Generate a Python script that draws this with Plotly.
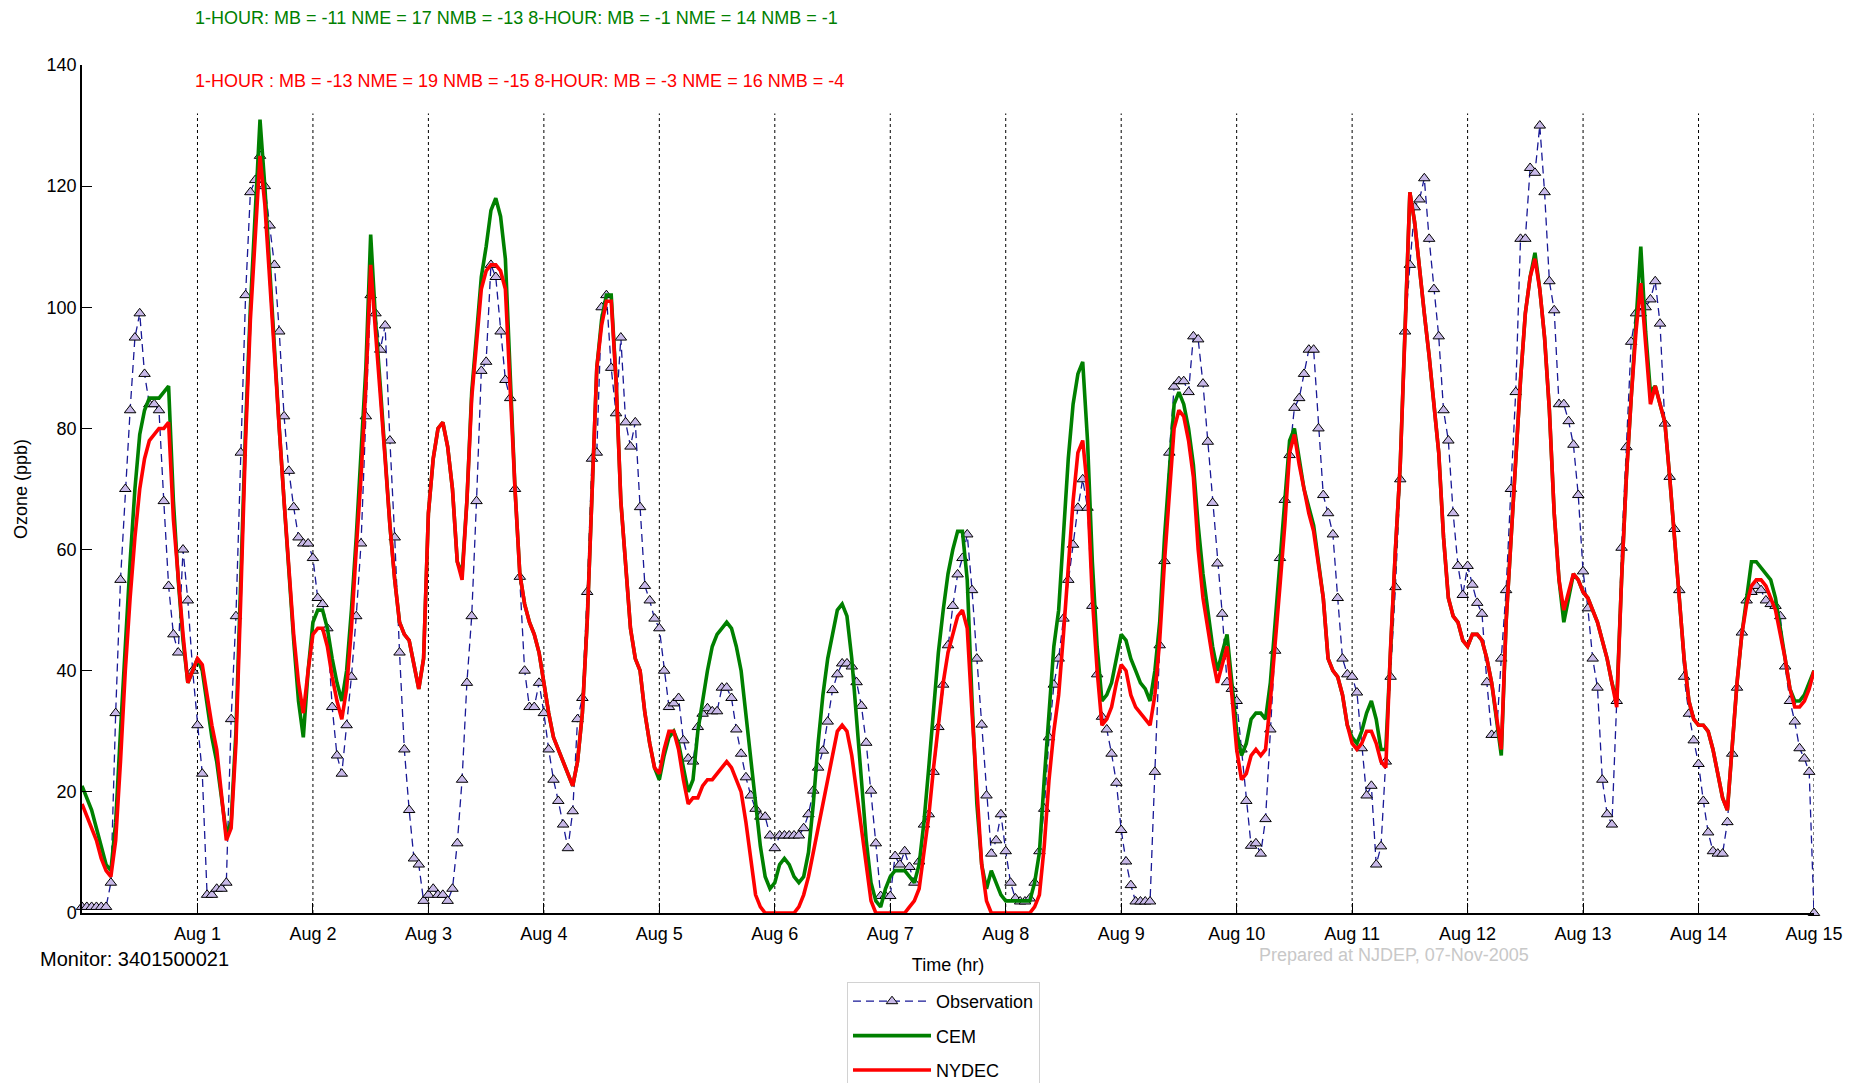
import plotly.graph_objects as go

# ---------------- data (hourly, hour 0 = Jul 31 00:00) ----------------
hours = list(range(361))

observation = [
    1, 1, 1, 1, 1, 1, 5, 33, 55, 70, 83, 95, 99, 89, 84, 84, 83, 68, 54, 46, 43, 60, 51.6, 40,
    31, 23, 3, 3, 4, 4, 5, 32, 49, 76, 102, 119, 121, 125, 120, 113.5, 107, 96, 82, 73, 67, 62, 61, 61,
    58.6, 52, 51, 47, 34, 26, 23, 31, 39, 49, 61, 82, 102, 99, 93, 97, 78, 62, 43, 27, 17, 9, 8, 2,
    3, 4, 3, 3, 2, 4, 11.5, 22, 38, 49, 68, 89.5, 91, 107, 105, 96, 88, 85, 70, 55.5, 40, 34, 34, 38,
    33, 27, 22, 18.5, 14.6, 10.7, 16.8, 32, 35.5, 53, 75, 76, 100, 102, 90, 82.5, 95, 81, 77, 81, 67, 54, 51.6, 48.6,
    47, 40, 34, 34.6, 35.5, 28.5, 25.5, 25, 30.7, 32.9, 33.8, 33.3, 33.3, 37.2, 37.2, 35.5, 30.3, 26.3, 22.4, 19.4, 17.2, 15.9, 15.9, 12.8,
    10.7, 12.8, 12.8, 12.8, 12.8, 12.8, 14, 16.3, 20.2, 24, 26.8, 31.6, 36.8, 39.4, 41.2, 41.2, 40.7, 38.1, 34.2, 28.1, 20.2, 11.5, 2.8, 2.8,
    2.8, 9.4, 8, 10.2, 7.6, 5, 8.5, 14.6, 16.3, 23.3, 30.7, 37.7, 44.2, 50.7, 55.9, 58.6, 62.5, 53.3, 42, 31.1, 19.4, 9.8, 12, 16.3,
    10.2, 5, 2.4, 1.9, 1.9, 2.4, 5, 10.2, 17.2, 29, 37.7, 42, 48.6, 55, 60.8, 66.9, 71.6, 66.9, 50.7, 39.4, 32.4, 30.3, 26.3, 21.5,
    13.7, 8.5, 4.6, 1.9, 1.9, 1.9, 1.9, 23.3, 44.2, 58.1, 76, 86.9, 87.8, 87.8, 86, 95.2, 94.7, 87.4, 77.8, 67.7, 57.7, 49.4, 38.1, 37,
    35, 27, 18.5, 11.1, 11.5, 9.8, 15.5, 30.3, 43.3, 58.6, 68.2, 75.6, 83.4, 85, 89, 93, 93, 80, 69, 66, 62.5, 52, 42, 39.4,
    39, 36.4, 27.2, 19.4, 21, 8, 11, 25, 39, 53.8, 71.6, 96, 107, 116.5, 117.8, 121.3, 111.3, 103, 95.2, 83, 78, 66, 57.3, 52.5,
    57.3, 54.2, 51.2, 49.4, 38.1, 29.4, 29.4, 42, 53.3, 70, 86, 111.3, 111.3, 123, 122.2, 130, 119, 104.3, 99.5, 84, 84, 81.2, 77.3, 69,
    56.4, 50.3, 42, 37.2, 22, 16.3, 14.6, 35, 60.3, 76.9, 94.3, 99, 99, 100, 101.3, 104.3, 97.3, 80.8, 72, 63.4, 53.3, 39, 32.9, 28.5,
    24.6, 18.5, 13.3, 10.2, 9.8, 9.8, 15, 26.3, 37.2, 46.3, 51.6, 53, 54, 53.3, 51.6, 51, 50.7, 49, 40.7, 35, 31.6, 27.2, 25.5, 23.3,
    0,
]

cem = [
    21, 19, 17, 14, 11, 8, 7, 15, 30, 45, 58, 70, 79, 83, 85, 85, 85, 86, 87, 68, 55, 45, 38, 40,
    42, 40, 34, 29, 25, 19, 13, 15, 30, 55, 80, 100, 115, 131, 120, 106, 93, 80, 68, 56, 45, 35, 29, 40,
    48, 50, 50, 47, 42, 38, 35, 40, 50, 62, 75, 90, 112, 98, 87, 75, 64, 55, 48, 46, 45, 41, 37, 42,
    66, 75, 80, 81, 77, 70, 58, 56, 68, 86, 96, 105, 110, 116, 118, 115, 108, 88, 70, 56, 51, 48, 46, 43,
    38, 33, 29, 27, 25, 23, 21, 25, 33, 48, 68, 90, 98, 102, 102, 88, 68, 58, 47, 42, 40, 33, 28, 24,
    22, 26, 29, 30, 28, 24, 20, 22, 30, 35, 40, 44, 46, 47, 48, 47, 44, 40, 33, 26, 18, 11, 6, 4,
    5, 8, 9, 8, 6, 5, 6, 10, 18, 28, 36, 42, 46, 50, 51, 49, 42, 32, 22, 12, 5, 2, 1, 4,
    6, 7, 7, 7, 6, 5, 8, 15, 24, 34, 43, 50, 56, 60, 63, 63, 55, 35, 18, 8, 4, 7, 5, 3,
    2, 2, 2, 2, 2, 2, 5, 10, 22, 34, 44, 50, 62, 75, 84, 89, 91, 78, 58, 44, 35, 36, 38, 42,
    46, 45, 42, 40, 38, 37, 35, 40, 48, 62, 74, 84, 86, 84, 80, 74, 64, 56, 50, 44, 40, 43, 46, 38,
    30, 26, 28, 32, 33, 33, 32, 38, 48, 58, 68, 78, 80, 75, 70, 67, 64, 58, 52, 42, 40, 39, 36, 31,
    29, 28, 30, 33, 35, 32, 27, 27, 44, 60, 74, 96, 119, 114, 106, 99, 92, 84, 76, 62, 52, 49, 48, 45,
    44, 46, 46, 45, 42, 38, 32, 26, 48, 62, 75, 88, 99, 105, 109, 103, 95, 83, 66, 55, 48, 52, 56, 55,
    53, 52, 50, 48, 45, 42, 38, 35, 55, 72, 85, 98, 110, 96, 86, 87, 84, 81, 72, 62, 52, 42, 35, 32,
    31, 31, 30, 27, 23, 19, 17, 28, 38, 46, 52, 58, 58, 57, 56, 55, 52, 47, 42, 37, 35, 35, 36, 38,
    40,
]

nydec = [
    18, 16, 14, 12, 9, 7, 6, 12, 25, 40, 52, 62, 70, 75, 78, 79, 80, 80, 81, 65, 55, 46, 38, 40,
    42, 41, 36, 31, 27, 20, 12, 14, 28, 52, 78, 98, 112, 125, 117, 104, 91, 80, 68, 57, 46, 38, 33, 40,
    46, 47, 47, 44, 39, 35, 32, 37, 47, 60, 72, 87, 107, 96, 86, 75, 64, 55, 48, 46, 45, 41, 37, 42,
    66, 75, 80, 81, 77, 70, 58, 55, 68, 85, 94, 103, 106, 107, 107, 106, 103, 86, 70, 56, 51, 48, 46, 43,
    38, 33, 29, 27, 25, 23, 21, 25, 33, 48, 68, 90, 97, 101, 101, 88, 68, 58, 47, 42, 40, 33, 28, 24,
    23, 27, 30, 30, 27, 22, 18, 19, 19, 21, 22, 22, 23, 24, 25, 24, 22, 20, 15, 9, 3, 1, 0, 0,
    0, 0, 0, 0, 0, 1, 3, 6, 10, 14, 18, 22, 26, 30, 31, 30, 26, 20, 14, 7, 2, 0, 0, 0,
    0, 0, 0, 0, 1, 2, 4, 10, 16, 24, 31, 38, 43, 46, 49, 50, 47, 33, 20, 8, 2, 0, 0, 0,
    0, 0, 0, 0, 0, 0, 1, 3, 11, 22, 30, 36, 46, 57, 68, 76, 78, 70, 52, 40, 31, 32, 34, 38,
    41, 40, 36, 34, 33, 32, 31, 36, 45, 58, 70, 80, 83, 82, 78, 72, 60, 52, 47, 42, 38, 41, 44, 36,
    27, 22, 23, 26, 27, 26, 27, 35, 44, 54, 64, 76, 79, 74, 70, 66, 63, 57, 52, 42, 40, 39, 36, 31,
    28, 27, 28, 30, 30, 28, 25, 24, 44, 60, 74, 96, 119, 114, 106, 99, 92, 84, 76, 62, 52, 49, 48, 45,
    44, 46, 46, 45, 42, 38, 32, 27, 48, 62, 75, 88, 99, 105, 108, 103, 95, 83, 66, 55, 50, 53, 56, 55,
    53, 52, 50, 48, 45, 42, 38, 34, 55, 72, 85, 96, 104, 94, 84, 87, 84, 81, 72, 62, 52, 42, 35, 32,
    31, 31, 30, 27, 23, 19, 17, 28, 38, 46, 51, 54, 55, 55, 54, 52, 50, 46, 42, 37, 34, 34, 35, 37,
    40,
]

tick_hours = [24, 48, 72, 96, 120, 144, 168, 192, 216, 240, 264, 288, 312, 336, 360]
tick_labels = ["Aug 1", "Aug 2", "Aug 3", "Aug 4", "Aug 5", "Aug 6", "Aug 7", "Aug 8",
               "Aug 9", "Aug 10", "Aug 11", "Aug 12", "Aug 13", "Aug 14", "Aug 15"]
y_ticks = [0, 20, 40, 60, 80, 100, 120, 140]

stats_cem = "1-HOUR: MB = -11 NME = 17 NMB = -13 8-HOUR: MB = -1 NME = 14 NMB = -1"
stats_nydec = "1-HOUR : MB = -13 NME = 19 NMB = -15 8-HOUR: MB = -3 NME = 16 NMB = -4"

# ---------------- figure ----------------
FONT = "Liberation Sans, Arial, sans-serif"
GREEN = "rgb(0,128,0)"
RED = "rgb(255,0,0)"

# plot-area geometry (pixels)
L, R, T, B = 82, 51, 65, 170
PW = 1865 - L - R
PH = 1083 - T - B
BOTTOM = T + PH


def px_x(x):
    return (x - L) / PW


def px_y(y):
    return (BOTTOM - y) / PH


fig = go.Figure()

fig.add_trace(go.Scatter(
    x=hours, y=observation, mode="lines+markers", name="Observation",
    line=dict(color="rgb(25,25,150)", width=1.3, dash="8px,5px"),
    marker=dict(symbol="triangle-up", size=10, color="rgb(200,185,232)",
                line=dict(color="black", width=1)),
    cliponaxis=False, legendgroup="a",
))
fig.add_trace(go.Scatter(
    x=hours, y=cem, mode="lines", name="CEM",
    line=dict(color=GREEN, width=3.6), legendgroup="b",
))
fig.add_trace(go.Scatter(
    x=hours, y=nydec, mode="lines", name="NYDEC",
    line=dict(color=RED, width=3.6), legendgroup="c",
))

# dotted day separators
shapes = []
for h in tick_hours:
    shapes.append(dict(type="line", xref="x", yref="y", x0=h, x1=h, y0=0, y1=132,
                       line=dict(color="black", width=1, dash="dot"), layer="below"))

annotations = [
    dict(text=stats_cem, xref="paper", yref="paper", x=px_x(193), y=px_y(18),
         xanchor="left", yanchor="middle", showarrow=False,
         font=dict(family=FONT, size=18, color=GREEN)),
    dict(text=stats_nydec, xref="paper", yref="paper", x=px_x(193), y=px_y(81),
         xanchor="left", yanchor="middle", showarrow=False,
         font=dict(family=FONT, size=18, color=RED)),
    dict(text="Monitor: 3401500021", xref="paper", yref="paper", x=px_x(38),
         y=px_y(959), xanchor="left", yanchor="middle", showarrow=False,
         font=dict(family=FONT, size=20, color="black")),
    dict(text="Prepared at NJDEP, 07-Nov-2005", xref="paper", yref="paper", x=px_x(1394),
         y=px_y(955), xanchor="center", yanchor="middle", showarrow=False,
         font=dict(family=FONT, size=18, color="rgb(200,200,200)")),
]

fig.update_layout(
    width=1865, height=1083,
    margin=dict(l=L, r=R, t=T, b=B, autoexpand=False),
    paper_bgcolor="white", plot_bgcolor="white",
    font=dict(family=FONT, size=18, color="black"),
    showlegend=True,
    legend=dict(x=px_x(847), y=px_y(982), xanchor="left", yanchor="top",
                bordercolor="rgb(210,210,210)", borderwidth=1, bgcolor="white",
                font=dict(family=FONT, size=18), tracegroupgap=8, itemwidth=78,
                traceorder="grouped"),
    shapes=shapes,
    annotations=annotations,
    xaxis=dict(range=[0, 360], tickvals=tick_hours, ticktext=tick_labels,
               ticks="inside", ticklen=10, tickcolor="black", tickwidth=1,
               ticklabelstandoff=3, automargin=False,
               showline=True, linecolor="black", linewidth=2, showgrid=False, zeroline=False,
               title=dict(text="Time (hr)", standoff=16, font=dict(family=FONT, size=18)),
               tickfont=dict(family=FONT, size=18)),
    yaxis=dict(range=[0, 140], tickvals=y_ticks, ticks="inside", ticklen=10,
               tickcolor="black", tickwidth=1, automargin=False,
               showline=True, linecolor="black", linewidth=1.5, showgrid=False, zeroline=False,
               title=dict(text="Ozone (ppb)", standoff=14, font=dict(family=FONT, size=18)),
               tickfont=dict(family=FONT, size=18)),
)

fig.write_html("out.html")
